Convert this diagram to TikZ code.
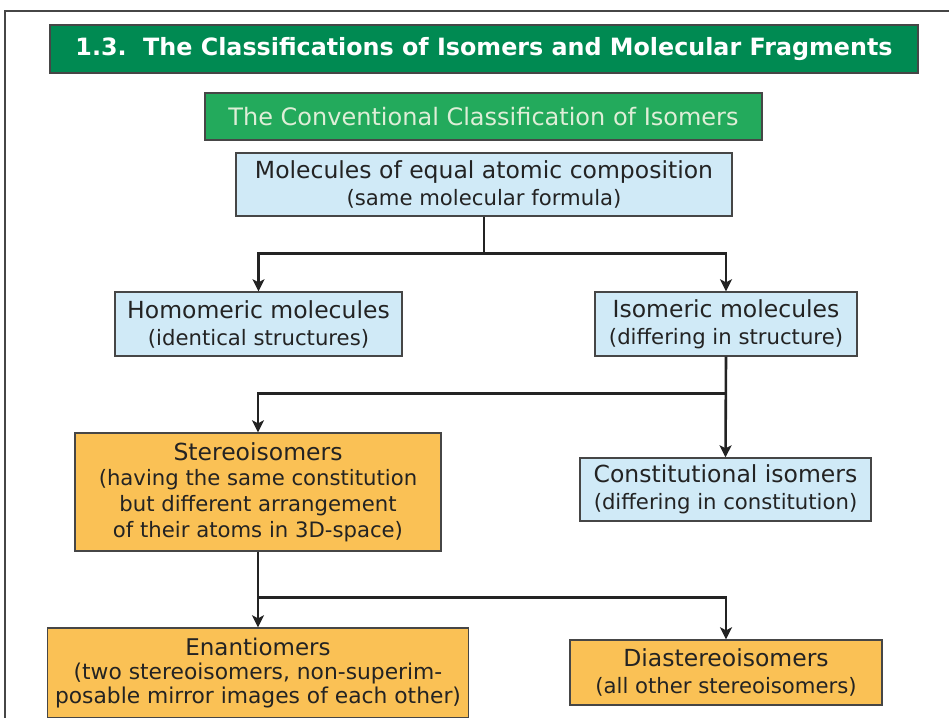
\documentclass[tikz,border=0pt]{standalone}
\usepackage{fontspec}
\setmainfont{DejaVu Sans}
\usetikzlibrary{arrows.meta,calc}
\definecolor{titlegreen}{RGB}{0,138,82}
\definecolor{subgreen}{RGB}{35,170,92}
\definecolor{subtext}{RGB}{222,238,215}
\definecolor{boxblue}{RGB}{208,234,247}
\definecolor{boxorange}{RGB}{250,193,85}
\definecolor{bordercol}{RGB}{70,70,70}
\definecolor{textcol}{RGB}{35,35,35}
\tikzset{
  basebox/.style={draw=bordercol, line width=1.4pt, inner sep=0pt, align=center, text=textcol,
    font=\fontsize{21.2}{27}\selectfont},
  bluebox/.style={basebox, fill=boxblue},
  orangebox/.style={basebox, fill=boxorange},
  conn/.style={draw=textcol, line width=2.6pt},
  arr/.style={conn, -{Stealth[length=12pt,width=12pt,inset=3pt]}},
}
\newcommand{\headl}[1]{{\fontsize{23.5}{27}\selectfont #1}}
\newcommand{\subl}[1]{{\fontsize{21.2}{27}\selectfont #1}}
\begin{document}
\begin{tikzpicture}[x=1pt,y=-1pt]
\useasboundingbox (0,0) rectangle (949,717);
\fill[white] (0,0) rectangle (949,717);
% outer frame
\draw[line width=1.3pt, draw=bordercol] (5,730) -- (5,11) -- (960,11);
% title bars
\node[basebox, fill=titlegreen, text=white, minimum width=868pt, minimum height=48pt,
  font=\fontsize{23.8}{28}\selectfont\bfseries] (title) at (484,49)
  {1.3.\ \ The Classifications of Isomers and Molecular Fragments};
\node[basebox, fill=subgreen, text=subtext, minimum width=557pt, minimum height=47pt,
  font=\fontsize{24}{28}\selectfont] (sub) at (483.5,116.5)
  {The Conventional Classification of Isomers};
% boxes
\node[bluebox, minimum width=496pt, minimum height=63pt] (mol) at (484,184.5)
  {\headl{Molecules of equal atomic composition}\\\subl{(same molecular formula)}};
\node[bluebox, minimum width=287pt, minimum height=64pt] (homo) at (258.5,324)
  {\headl{Homomeric molecules}\\\subl{(identical structures)}};
\node[bluebox, minimum width=262pt, minimum height=64pt] (iso) at (726,324)
  {\headl{Isomeric molecules}\\\subl{(differing in structure)}};
\node[orangebox, minimum width=366pt, minimum height=118pt, font=\fontsize{21.2}{25.7}\selectfont] (stereo) at (258,492)
  {{\fontsize{23.5}{25.7}\selectfont Stereoisomers}\\(having the same constitution\\but different arrangement\\of their atoms in 3D-space)};
\node[bluebox, minimum width=291pt, minimum height=63pt] (const) at (725.5,489.5)
  {\headl{Constitutional isomers}\\\subl{(differing in constitution)}};
\node[orangebox, minimum width=421pt, minimum height=90pt, font=\fontsize{21.8}{24}\selectfont] (enan) at (258,673)
  {{\fontsize{23}{24}\selectfont Enantiomers}\\(two stereoisomers, non-superim-\\posable mirror images of each other)};
\node[orangebox, minimum width=312pt, minimum height=65pt] (dia) at (726,672.5)
  {\headl{Diastereoisomers}\\\subl{(all other stereoisomers)}};
% connectors
\draw[conn] (mol.south) -- ++(0,37) coordinate (j1);
\draw[arr] (j1) -| (homo.north);
\draw[arr] (j1) -| (iso.north);
\draw[arr] (iso.south) -- (const.north);
\coordinate (j2) at ($(iso.south)+(0,37)$);
\draw[arr] (j2) -| (stereo.north);
\draw[conn] (stereo.south) -- ++(0,46) coordinate (j3);
\draw[arr] (stereo.south) -- (enan.north);
\draw[arr] (j3) -| (dia.north);
\end{tikzpicture}
\end{document}
